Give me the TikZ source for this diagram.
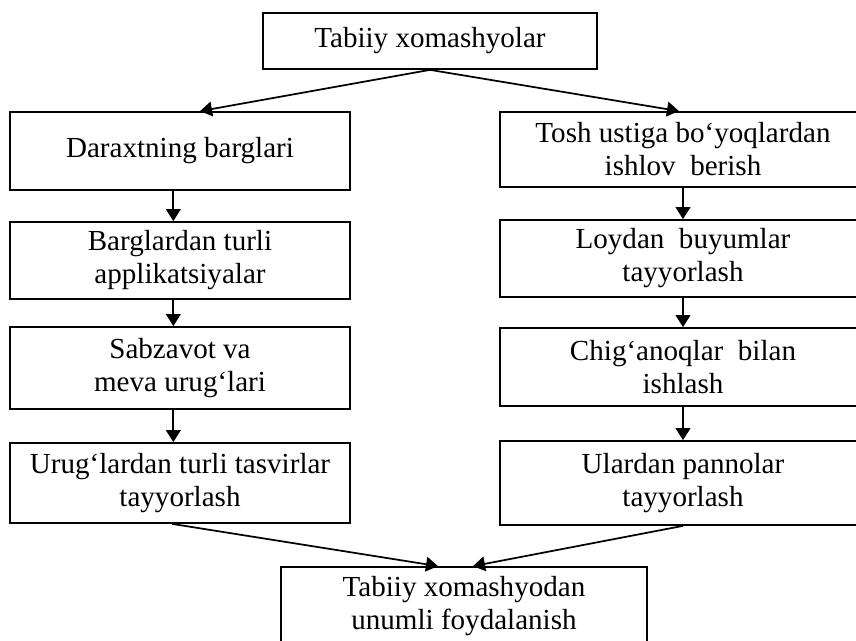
\documentclass[tikz,border=0pt]{standalone}
\usepackage{fontspec}
\setmainfont{Liberation Serif}
\usetikzlibrary{arrows.meta}
\tikzset{
  box/.style={draw, line width=1.3pt, align=center, inner sep=0pt,
    font=\fontsize{21.8}{24.75}\selectfont},
  lbox/.style={box, minimum width=255pt},
  rbox/.style={box, minimum width=274.5pt},
  arr/.style={line width=1.3pt, -{Triangle[length=9pt,width=11pt]}},
}
\begin{document}
\begin{tikzpicture}[x=0.75pt, y=-0.75pt]
  \useasboundingbox (0,0) rectangle (856,641);
  \node[box, minimum width=250.5pt, minimum height=42pt] (top) at (430,41) {Tabiiy xomashyolar};
  % left column
  \node[lbox, minimum height=58.5pt] (l1) at (180,151) {Daraxtning barglari};
  \node[lbox, minimum height=57.75pt] (l2) at (180,260.5) {Barglardan turli\\applikatsiyalar};
  \node[lbox, minimum height=61.5pt] (l3) at (180,368) {Sabzavot va\\meva urug‘lari};
  \node[lbox, minimum height=60pt] (l4) at (180,483) {Urug‘lardan turli tasvirlar\\tayyorlash};
  % right column
  \node[rbox, minimum height=56.25pt] (r1) at (683,149.5) {Tosh ustiga bo‘yoqlardan\\ishlov\ \ berish};
  \node[rbox, minimum height=57.75pt] (r2) at (683,258.5) {Loydan\ \ buyumlar\\tayyorlash};
  \node[rbox, minimum height=58.5pt] (r3) at (683,367) {Chig‘anoqlar\ \ bilan\\ishlash};
  \node[rbox, minimum height=63pt] (r4) at (683,483) {Ulardan pannolar\\tayyorlash};
  \node[rbox, minimum height=58.5pt] (end) at (464,606) {Tabiiy xomashyodan\\unumli foydalanish};

  \draw[arr] (top.south) -- ([xshift=15pt]l1.north);
  \draw[arr] (top.south) -- ([xshift=-3pt]r1.north);
  \foreach \a/\b in {l1/l2, l2/l3, l3/l4}
    \draw[arr] ([xshift=-5pt]\a.south) -- ([xshift=-5pt]\b.north);
  \foreach \a/\b in {r1/r2, r2/r3, r3/r4}
    \draw[arr] (\a.south) -- (\b.north);
  \draw[arr] ([xshift=-6pt]l4.south) -- ([xshift=-19.5pt]end.north);
  \draw[arr] (r4.south) -- ([xshift=6.75pt]end.north);
\end{tikzpicture}
\end{document}
